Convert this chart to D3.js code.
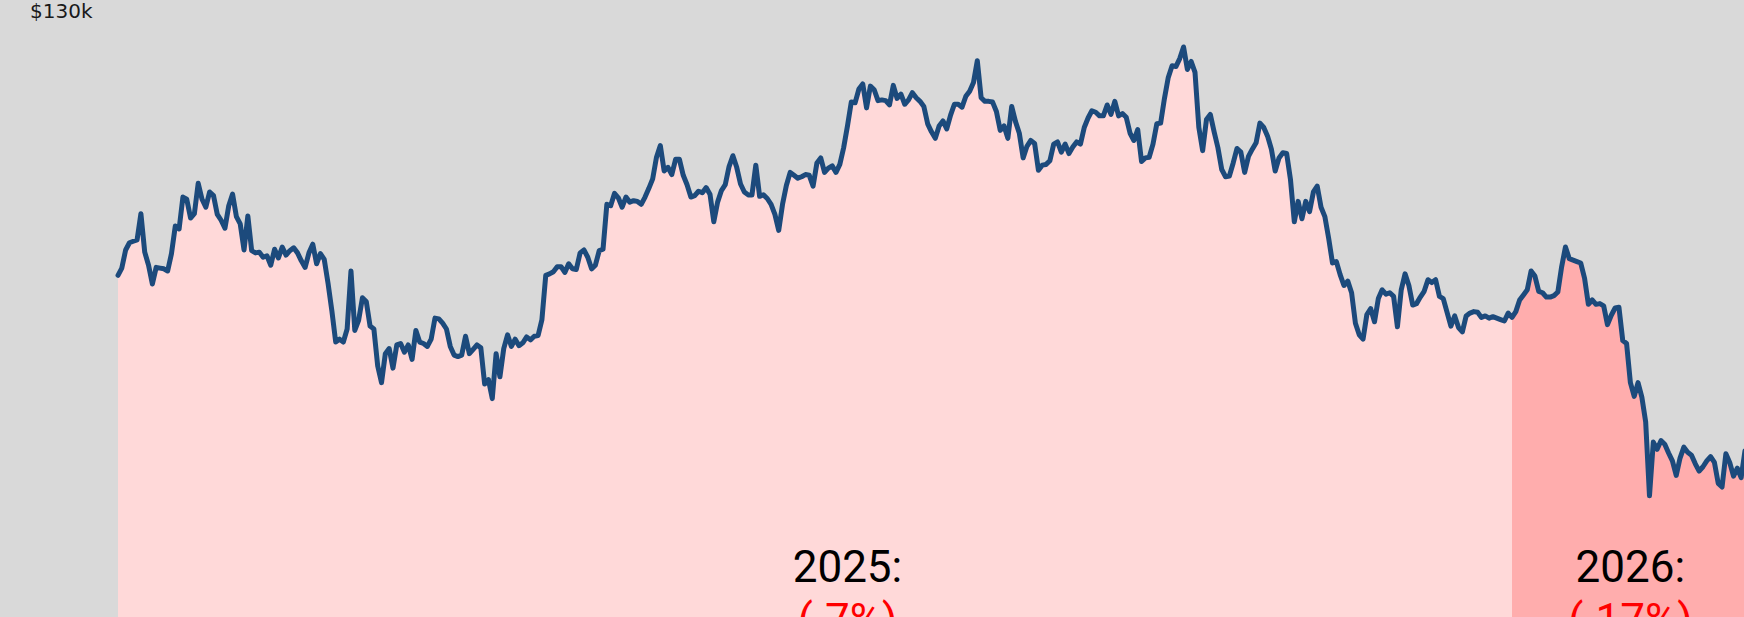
<!DOCTYPE html>
<html>
<head>
<meta charset="utf-8">
<script src="https://d3js.org/d3.v7.min.js"></script>
<style>
    body { margin: 0; background: #d9d9d9; overflow: hidden; }
    svg { display: block; }
    .tick-label {
        font-family: "DejaVu Sans", sans-serif;
        font-size: 20px;
        fill: #1a1a1a;
    }
    .year-label {
        font-family: Roboto, sans-serif;
        font-size: 44px;
        text-anchor: middle;
    }
</style>
</head>
<body>
<script>
    // daily price in $k, first value is the 2024 year-end price
    const startDate = "2025-01-01";
    const prices2025 = [
        93.4,
        // jan
        94.4, 96.9, 97.9, 98.1, 98.3, 101.9, 96.6, 94.8, 92.2, 94.5, 94.4, 94.3, 94.0, 96.4, 100.2, 99.8,
        104.2, 103.9, 101.3, 101.9, 106.1, 103.9, 102.8, 104.9, 104.4, 101.8, 101.0, 99.9, 103.0, 104.6, 101.5,
        // feb
        100.5, 96.9, 101.6, 96.8, 96.5, 96.6, 95.9, 96.1, 94.8, 97.0, 95.8, 97.3, 96.2, 96.8,
        97.2, 96.5, 95.4, 94.5, 96.5, 97.7, 95.0, 96.4, 95.6, 92.3, 88.5, 84.2, 84.6, 84.2,
        // mar
        86.0, 94.0, 85.8, 87.2, 90.3, 89.8, 86.4, 86.0, 80.9, 78.6, 82.6, 83.3, 80.6, 83.8, 84.0, 82.8,
        83.8, 81.8, 85.8, 84.2, 84.0, 83.6, 84.6, 87.5, 87.4, 86.8, 86.0, 83.6, 82.4, 82.2, 82.4,
        // apr
        85.0, 82.6, 83.2, 83.8, 83.4, 78.4, 79.0, 76.4, 82.6, 79.4, 83.3, 85.2, 83.6, 84.6, 83.7,
        84.1, 84.9, 84.5, 85.0, 85.1, 87.3, 93.4, 93.6, 93.9, 94.6, 94.6, 93.8, 95.0, 94.3, 94.2,
        // may
        96.5, 96.9, 95.9, 94.3, 94.8, 96.8, 97.0, 103.2, 103.0, 104.7, 104.1, 102.8, 104.2, 103.5, 103.7,
        103.6, 103.2, 104.2, 105.4, 106.7, 109.7, 111.3, 107.8, 108.3, 107.3, 109.4, 109.4, 107.2, 105.9, 104.2, 104.4,
        // jun
        105.0, 104.8, 105.5, 104.6, 100.8, 103.5, 105.1, 105.9, 108.4, 109.9, 108.3, 106.0, 104.9, 104.5, 104.5,
        108.6, 104.3, 104.5, 104.0, 103.2, 101.8, 99.6, 103.2, 105.8, 107.6, 107.2, 106.8, 107.0, 107.3, 107.2,
        // jul
        105.7, 108.9, 109.6, 107.6, 108.2, 108.5, 107.6, 108.7, 111.0, 114.0, 117.3, 117.2, 119.1, 119.8, 116.5,
        119.5, 119.0, 117.5, 117.6, 117.5, 116.9, 119.6, 117.8, 118.4, 117.0, 117.6, 118.6, 117.9, 117.4, 116.7, 114.3,
        // aug
        113.2, 112.3, 114.0, 114.7, 113.6, 115.5, 117.0, 117.0, 116.6, 118.1, 118.8, 120.0, 123.0, 117.9, 117.4,
        117.4, 117.3, 116.0, 113.4, 114.0, 112.3, 116.7, 114.6, 113.0, 109.6, 111.2, 112.0, 111.6, 107.9, 108.6, 108.7,
        // sep
        109.2, 111.5, 111.8, 110.4, 111.5, 110.2, 111.1, 111.8, 111.5, 113.8, 115.1, 116.1, 115.9, 115.4, 115.4,
        116.9, 115.6, 117.4, 115.4, 115.7, 115.2, 113.0, 112.0, 113.5, 109.1, 109.6, 109.7, 111.5, 114.3, 114.4,
        // oct
        117.8, 120.7, 122.3, 122.2, 123.3, 124.9, 121.8, 122.9, 121.4, 113.8, 110.6, 114.9, 115.6, 113.2, 111.0,
        108.0, 107.0, 107.1, 108.9, 110.9, 110.4, 107.6, 109.8, 110.8, 111.7, 114.4, 113.8, 112.6, 110.8, 107.8, 109.6,
        // nov
        110.3, 110.2, 106.6, 100.8, 103.6, 101.2, 103.6, 102.2, 104.9, 105.7, 102.8, 101.5, 98.5, 95.1, 95.3,
        93.5, 92.0, 92.6, 91.0, 86.8, 85.2, 84.6, 88.0, 88.8, 87.0, 90.2, 91.4, 90.8, 91.0, 90.5,
        // dec
        86.3, 91.4, 93.6, 92.0, 89.3, 89.5, 90.4, 91.2, 92.8, 92.4, 92.8, 90.5, 90.2, 88.3, 86.4,
        87.8, 86.2, 85.6, 87.8, 88.2, 88.4, 88.3, 87.6, 87.8, 87.5, 87.7, 87.5, 87.3, 87.1, 88.2, 87.6
    ];
    const prices2026 = [
        // jan
        88.4, 90.0, 90.7, 91.4, 94.0, 93.3, 91.2, 91.0, 90.4, 90.4, 90.6, 91.1, 94.6, 97.3, 95.7,
        95.5, 95.3, 95.1, 93.0, 89.4, 90.0, 89.4, 89.5, 89.2, 86.6, 87.9, 88.9, 89.0, 84.4, 84.0, 78.6,
        // feb - mar
        76.7, 78.6, 76.6, 73.2, 63.0, 70.4, 69.4, 70.6, 70.1, 68.9, 67.8, 65.8, 68.2, 69.7, 69.0,
        68.6, 67.4, 66.4, 67.0, 67.8, 68.4, 67.6, 64.7, 64.2, 68.8, 67.6, 65.7, 66.8, 65.5, 69.2
    ];

    const years = ["2025", "2026"];
    const yearStarts = ["2025-01-01", "2026-01-01"];
    const yearChanges = ["(-7%)", "(-17%)"];
    const yearLabelDates = ["2025-07-11", "2026-02-01"];
    const yearFills = ["#ffd9d9", "#ffadad"];
    const yTicks = [130];
    const yTickLabels = ["$130k"];

    const width = 1744, height = 617;
    const parse = d3.utcParse("%Y-%m-%d");
    const t0 = parse(startDate);

    const prices = prices2025.concat(prices2026);
    const data = prices.map((v, i) => ({ date: d3.utcDay.offset(t0, i), value: v }));
    const lastDate = data[data.length - 1].date;

    const svg = d3.select("body").append("svg")
        .attr("width", width)
        .attr("height", height);

    svg.append("rect")
        .attr("width", width)
        .attr("height", height)
        .attr("fill", "#d9d9d9");

    // one year of the chart spans 118 -> 1512
    const x = d3.scaleUtc()
        .domain([parse("2025-01-01"), parse("2026-01-01")])
        .range([118, 1512]);

    const y = d3.scaleLinear()
        .domain([0, 130])
        .range([952.5, 10]);

    const area = d3.area()
        .x(d => x(d.date))
        .y0(y(0))
        .y1(d => y(d.value));

    const line = d3.line()
        .x(d => x(d.date))
        .y(d => y(d.value));

    // shaded area under the line, one colour per year
    years.forEach((yr, i) => {
        const from = parse(yearStarts[i]);
        const to = i + 1 < yearStarts.length ? parse(yearStarts[i + 1]) : lastDate;
        const seg = data.filter(d => d.date >= from && d.date <= to);
        svg.append("path")
            .datum(seg)
            .attr("d", area)
            .attr("fill", yearFills[i]);
    });

    svg.append("path")
        .datum(data)
        .attr("d", line)
        .attr("fill", "none")
        .attr("stroke", "#1c4a7c")
        .attr("stroke-width", 5)
        .attr("stroke-linejoin", "round")
        .attr("stroke-linecap", "round");

    // y tick label
    svg.selectAll(".tick-label")
        .data(yTicks)
        .enter().append("text")
        .attr("class", "tick-label")
        .attr("x", 30)
        .attr("y", d => y(d) + 1)
        .attr("dy", "0.35em")
        .text((d, i) => yTickLabels[i]);

    // year labels
    years.forEach((yr, i) => {
        const t = svg.append("text")
            .attr("class", "year-label")
            .attr("x", x(parse(yearLabelDates[i])))
            .attr("y", 582);
        t.append("tspan")
            .attr("x", x(parse(yearLabelDates[i])))
            .attr("fill", "#000")
            .text(yr + ":");
        t.append("tspan")
            .attr("x", x(parse(yearLabelDates[i])))
            .attr("dy", "1.2em")
            .attr("fill", "#ff0000")
            .text(yearChanges[i]);
    });
</script>
</body>
</html>
